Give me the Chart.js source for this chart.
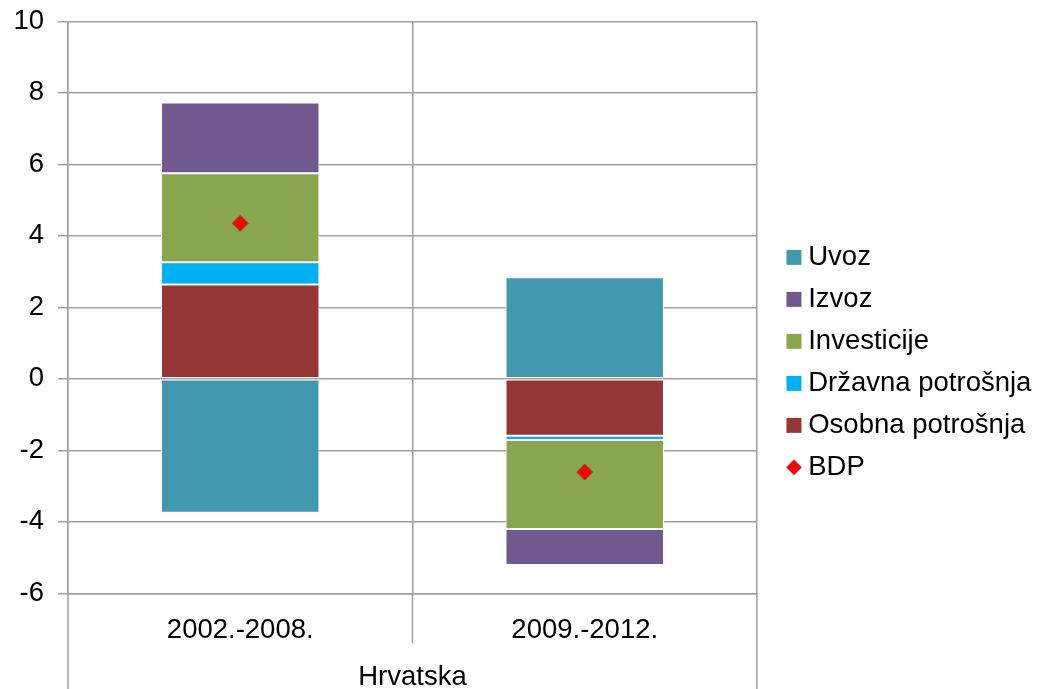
<!DOCTYPE html>
<html>
<head>
<meta charset="utf-8">
<script src="https://cdn.jsdelivr.net/npm/chart.js@4.4.1/dist/chart.umd.min.js"></script>
<style>
  html, body { margin: 0; padding: 0; background: #fff; }
  #wrap { width: 1037px; height: 689px; }
</style>
</head>
<body>
<div id="wrap"><canvas id="canvas"></canvas></div>
<script>
// categories
const categories = ['2002.-2008.', '2009.-2012.'];
const groupLabel = 'Hrvatska';

// contributions (percentage points)
const osobna = [2.64, -1.59];
const drzavna = [0.62, -0.12];
const investicije = [2.49, -2.49];
const izvoz = [1.98, -1.01];
const uvoz = [-3.75, 2.84];
const bdp = [4.35, -2.61];

const yTicks = { min: -6, max: 10, step: 2 };

const gridColor = '#a0a0a0';
const fontFamily = "'Liberation Sans', Arial, sans-serif";
const fontSize = 27.5;

Chart.defaults.font.family = fontFamily;
Chart.defaults.color = '#000';

// lines of the category boxes, below the plot area
const categoryLines = {
    id: 'categoryLines',
    afterDraw(chart) {
        const { ctx, chartArea, scales: { x } } = chart;
        const mid = (x.getPixelForValue(0) + x.getPixelForValue(1)) / 2;
        ctx.save();
        ctx.strokeStyle = gridColor;
        ctx.lineWidth = 1.5;
        ctx.beginPath();
        ctx.moveTo(chartArea.left, chartArea.bottom);
        ctx.lineTo(chartArea.left, chart.height);
        ctx.moveTo(mid, chartArea.bottom);
        ctx.lineTo(mid, chartArea.bottom + 50);
        ctx.moveTo(chartArea.right, chartArea.bottom);
        ctx.lineTo(chartArea.right, chart.height);
        ctx.stroke();
        ctx.restore();
    }
};

// small diamond for the BDP legend entry
function diamondIcon() {
    const c = document.createElement('canvas');
    c.width = 18; c.height = 18;
    const g = c.getContext('2d');
    g.beginPath();
    g.moveTo(9, 1); g.lineTo(17, 9); g.lineTo(9, 17); g.lineTo(1, 9);
    g.closePath();
    g.fillStyle = '#FF0000';
    g.fill();
    g.strokeStyle = '#9fb5d8';
    g.lineWidth = 1;
    g.stroke();
    return c;
}
const bdpIcon = diamondIcon();

function bar(label, values, color) {
    return {
        type: 'bar',
        label: label,
        data: values,
        backgroundColor: color,
        borderColor: '#ffffff',
        borderWidth: 1,
        borderSkipped: false,
        barPercentage: 0.46,
        categoryPercentage: 1,
        stack: 'bars',
        order: 2
    };
}

const datasets = [
    bar('Osobna potrošnja', osobna, '#953735'),
    bar('Državna potrošnja', drzavna, '#00B0F0'),
    bar('Investicije', investicije, '#89A54E'),
    bar('Izvoz', izvoz, '#71588F'),
    bar('Uvoz', uvoz, '#4198AF'),
    {
        type: 'line',
        label: 'BDP',
        data: bdp,
        showLine: false,
        pointStyle: 'rectRot',
        pointRadius: 8,
        pointHoverRadius: 8,
        pointBackgroundColor: '#FF0000',
        pointBorderColor: '#8c4a4a',
        pointBorderWidth: 1,
        backgroundColor: '#FF0000',
        borderColor: '#8c4a4a',
        stack: 'bdp',
        order: 1
    }
];

const legendRank = (item) => item.datasetIndex === 5 ? 99 : -item.datasetIndex;

new Chart(document.getElementById('canvas'), {
    data: { labels: categories, datasets: datasets },
    options: {
        responsive: true,
        maintainAspectRatio: false,
        animation: false,
        layout: { padding: { top: 21.3, left: 0, right: -4.4, bottom: 0 } },
        scales: {
            x: {
                stacked: true,
                grid: { color: gridColor, lineWidth: 1.5, offset: true, drawTicks: false },
                border: { color: gridColor, width: 1.5 },
                ticks: { font: { size: fontSize }, padding: 20.4 },
                title: {
                    display: true,
                    text: groupLabel,
                    font: { size: fontSize, lineHeight: 1 },
                    padding: { top: 0, bottom: -2 }
                },
                afterFit(scale) { scale.height = 95.7; }
            },
            y: {
                stacked: true,
                min: yTicks.min,
                max: yTicks.max,
                grid: { color: gridColor, lineWidth: 1.5, tickLength: 10 },
                border: { color: gridColor, width: 1.5 },
                ticks: { stepSize: yTicks.step, font: { size: fontSize }, padding: 14 },
                afterFit(scale) {
                    scale.width = 68;
                    scale.paddingTop = 0;
                    scale.paddingBottom = 0;
                }
            },
            gap: {
                type: 'linear',
                position: 'right',
                display: true,
                grid: { display: false },
                border: { display: false },
                ticks: { display: false },
                afterFit(scale) { scale.width = 22; }
            }
        },
        plugins: {
            legend: {
                position: 'right',
                maxWidth: 400,
                title: { display: true, text: '', font: { size: 12 }, padding: 0 },
                labels: {
                    font: { size: fontSize },
                    padding: 14.5,
                    usePointStyle: true,
                    boxWidth: 1,
                    boxHeight: 16,
                    sort: (a, b) => legendRank(a) - legendRank(b),
                    generateLabels(chart) {
                        const items = Chart.defaults.plugins.legend.labels.generateLabels(chart);
                        items.forEach(it => {
                            if (it.datasetIndex === 5) {
                                it.pointStyle = bdpIcon;
                            } else {
                                it.pointStyle = 'rect';
                                it.fillStyle = chart.data.datasets[it.datasetIndex].backgroundColor;
                                it.strokeStyle = '#ffffff';
                                it.lineWidth = 1;
                            }
                        });
                        return items;
                    }
                }
            },
            tooltip: { enabled: false }
        }
    },
    plugins: [categoryLines]
});
</script>
</body>
</html>
